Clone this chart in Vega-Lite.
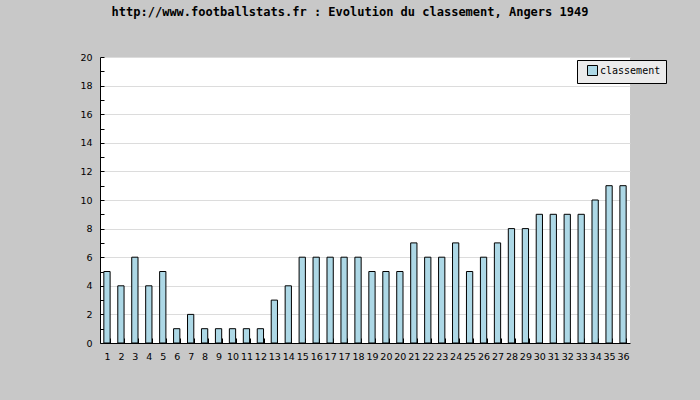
{
  "$schema": "https://vega.github.io/schema/vega-lite/v6.json",
  "autosize": {"type": "none"},
  "width": 530,
  "height": 286,
  "padding": {"left": 100, "top": 57, "right": 70, "bottom": 57},
  "background": "#c8c8c8",
  "title": {
    "text": "http://www.footballstats.fr : Evolution du classement, Angers 1949",
    "font": "DejaVu Sans Mono",
    "fontSize": 12,
    "fontWeight": "bold",
    "color": "#000000",
    "anchor": "middle",
    "dx": -15,
    "offset": 33
  },
  "config": {
    "view": {"fill": "#ffffff", "stroke": null},
    "axis": {
      "domainColor": "#000000",
      "tickColor": "#000000",
      "labelColor": "#000000",
      "labelFont": "DejaVu Sans",
      "labelFontSize": 9.5,
      "titleFontSize": 10
    }
  },
  "data": {
    "values": [
      {"journee": "1", "classement": 5},
      {"journee": "2", "classement": 4},
      {"journee": "3", "classement": 6},
      {"journee": "4", "classement": 4},
      {"journee": "5", "classement": 5},
      {"journee": "6", "classement": 1},
      {"journee": "7", "classement": 2},
      {"journee": "8", "classement": 1},
      {"journee": "9", "classement": 1},
      {"journee": "10", "classement": 1},
      {"journee": "11", "classement": 1},
      {"journee": "12", "classement": 1},
      {"journee": "13", "classement": 3},
      {"journee": "14", "classement": 4},
      {"journee": "15", "classement": 6},
      {"journee": "16", "classement": 6},
      {"journee": "17", "classement": 6},
      {"journee": "17 ", "classement": 6},
      {"journee": "18", "classement": 6},
      {"journee": "19", "classement": 5},
      {"journee": "20", "classement": 5},
      {"journee": "20 ", "classement": 5},
      {"journee": "21", "classement": 7},
      {"journee": "22", "classement": 6},
      {"journee": "23", "classement": 6},
      {"journee": "24", "classement": 7},
      {"journee": "25", "classement": 5},
      {"journee": "26", "classement": 6},
      {"journee": "27", "classement": 7},
      {"journee": "28", "classement": 8},
      {"journee": "29", "classement": 8},
      {"journee": "30", "classement": 9},
      {"journee": "31", "classement": 9},
      {"journee": "32", "classement": 9},
      {"journee": "33", "classement": 9},
      {"journee": "34", "classement": 10},
      {"journee": "35", "classement": 11},
      {"journee": "36", "classement": 11}
    ]
  },
  "mark": {"type": "bar", "stroke": "#000000", "strokeWidth": 1},
  "encoding": {
    "x": {
      "field": "journee",
      "type": "ordinal",
      "sort": null,
      "scale": {"paddingInner": 0.55, "paddingOuter": 0.275},
      "axis": {
        "title": null,
        "labelAngle": 0,
        "tickBand": "extent",
        "tickSize": -5,
        "labelPadding": 13,
        "grid": false
      }
    },
    "y": {
      "field": "classement",
      "type": "quantitative",
      "scale": {"domain": [0, 20], "nice": false},
      "axis": {
        "title": null,
        "values": [0,1,2,3,4,5,6,7,8,9,10,11,12,13,14,15,16,17,18,19,20],
        "labelExpr": "datum.value % 2 === 0 ? datum.label : ''",
        "tickSize": -4,
        "labelPadding": 12,
        "grid": true,
        "gridColor": "#dcdcdc",
        "gridOpacity": {"condition": {"test": "datum.value % 2 === 1", "value": 0}, "value": 1}
      }
    },
    "color": {
      "datum": "classement",
      "type": "nominal",
      "scale": {"range": ["#add8e6"]},
      "legend": {
        "title": null,
        "orient": "none",
        "legendX": 477,
        "legendY": 3,
        "symbolType": "square",
        "symbolSize": 100,
        "symbolStrokeColor": "#000000",
        "symbolStrokeWidth": 1,
        "symbolOffset": 5,
        "fillColor": "#ebebeb",
        "strokeColor": "#000000",
        "padding": 5,
        "labelFont": "DejaVu Sans Mono",
        "labelFontSize": 10,
        "labelColor": "#000000",
        "labelOffset": 2
      }
    }
  }
}
